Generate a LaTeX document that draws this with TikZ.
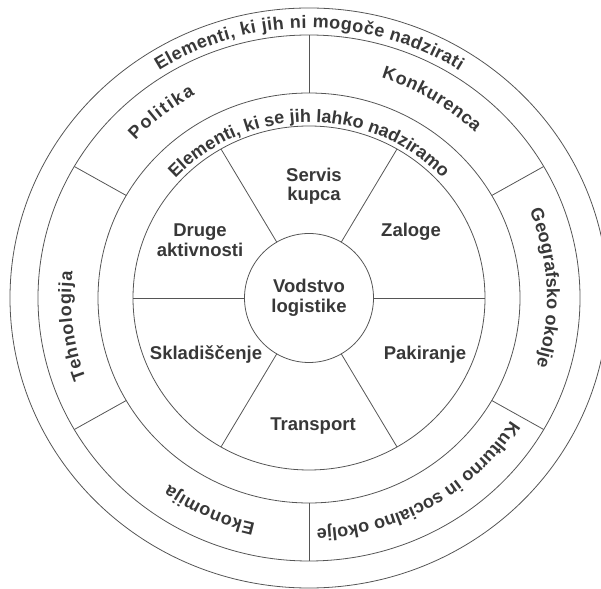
\documentclass[tikz,border=0pt]{standalone}
\usepackage{fontspec}
\setmainfont{Liberation Sans}
\usetikzlibrary{decorations.text,calc}
\definecolor{txt}{HTML}{383838}
\definecolor{ln}{HTML}{555555}
\newcommand\bandfont{\fontsize{18}{18}\selectfont\bfseries}
\begin{document}
\begin{tikzpicture}[x=1pt,y=1pt,
  ring/.style={draw=ln, line width=0.8pt},
  divider/.style={draw=ln, line width=0.8pt},
  lbl/.style={text=txt, font=\fontsize{18.5}{19.5}\selectfont\bfseries, align=center, inner sep=0pt},
  band/.style 2 args={decorate, decoration={text along path, text color=txt, text align=center, text={|\bandfont\kern#1pt|#2}}}
]
\useasboundingbox (0,0) rectangle (601,588);
\clip (0,0) rectangle (601,588);
\coordinate (C) at (309,290);
% rings
\draw[ring] (C) ellipse [x radius=299, y radius=290];
\draw[ring] (C) ellipse [x radius=271, y radius=263];
\draw[ring] (C) ellipse [x radius=211, y radius=205];
\draw[ring] (C) ellipse [x radius=176, y radius=172];
\node[ring, circle, minimum size=129pt, lbl] (vod) at (C) {Vodstvo\\logistike};
% dividers
\foreach \a in {0,60,...,300}
  \draw[divider] ($(C)+({64.5*cos(\a)},{64.5*sin(\a)})$) -- ($(C)+({176*cos(\a)},{172*sin(\a)})$);
\foreach \a in {30,90,...,330}
  \draw[divider] ($(C)+({211*cos(\a)},{205*sin(\a)})$) -- ($(C)+({271*cos(\a)},{263*sin(\a)})$);
% inner sector labels
\node[lbl] (servis) at (314,402) {Servis\\kupca};
\node[lbl] (zaloge) at (411,356) {Zaloge};
\node[lbl] (druge) at (200,348) {Druge\\aktivnosti};
\node[lbl] (sklad) at (206,233) {Skladiščenje};
\node[lbl] (pakir) at (425,233) {Pakiranje};
\node[lbl] (transp) at (313,162) {Transport};
% curved texts
\path[band={0.45}{Elementi, ki jih ni mogoče nadzirati}] ($(C)+({278*cos(135)},{270*sin(135)})$) arc[start angle=135, end angle=45, x radius=278, y radius=270];
\path[band={0}{Elementi, ki se jih lahko nadziramo}] ($(C)+({182*cos(145)},{176*sin(145)})$) arc[start angle=145, end angle=35, x radius=182, y radius=176];
\path[band={1.6}{Politika}] ($(C)+({238*cos(150)},{231*sin(150)})$) arc[start angle=150, end angle=106, x radius=238, y radius=231];
\path[band={0.6}{Konkurenca}] ($(C)+({238*cos(84)},{231*sin(84)})$) arc[start angle=84, end angle=34, x radius=238, y radius=231];
\path[band={0.1}{Geografsko okolje}] ($(C)+({238*cos(30.5)},{231*sin(30.5)})$) arc[start angle=30.5, end angle=-25.5, x radius=238, y radius=231];
\path[band={0}{Kulturno in socialno okolje}] ($(C)+({238*cos(-25)},{231*sin(-25)})$) arc[start angle=-25, end angle=-95, x radius=238, y radius=231];
\path[band={0.45}{Ekonomija}] ($(C)+({238*cos(267.5)},{231*sin(267.5)})$) arc[start angle=267.5, end angle=223.5, x radius=238, y radius=231];
\path[band={0.8}{Tehnologija}] ($(C)+({238*cos(209)},{231*sin(209)})$) arc[start angle=209, end angle=165, x radius=238, y radius=231];
\end{tikzpicture}
\end{document}
